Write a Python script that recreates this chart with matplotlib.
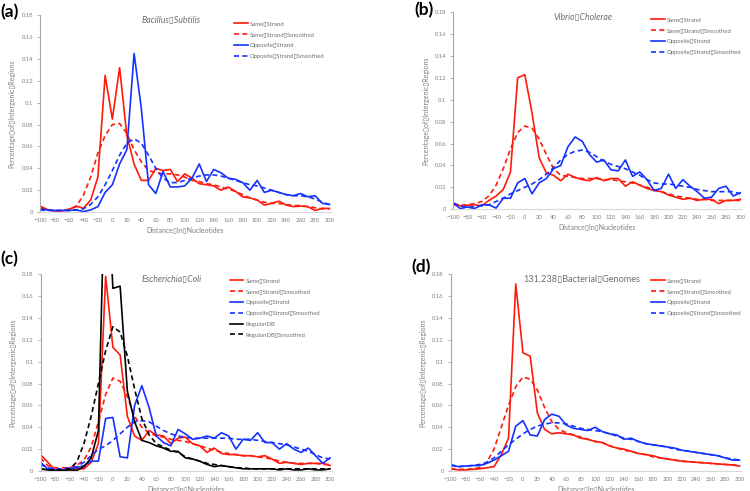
import numpy as np
import matplotlib
matplotlib.use('Agg')
import matplotlib.pyplot as plt
from matplotlib.ticker import FuncFormatter

plt.rcParams['font.family'] = ['Lato', 'DejaVu Sans']

B = '\u25af'  # the box glyph that stands for the spaces in the reference

# distance in nucleotides, -100 .. 300 step 10
dist = list(range(-100, 301, 10))

# ---- (a) Bacillus subtilis
a_same = [0.0055, 0.0025, 0.001, 0.001, 0.0025, 0.0055, 0.0035, 0.011, 0.032, 0.125,
          0.085, 0.132, 0.070, 0.044, 0.029, 0.029, 0.040, 0.038, 0.039, 0.028,
          0.035, 0.031, 0.026, 0.025, 0.024, 0.020, 0.023, 0.019, 0.014, 0.013,
          0.011, 0.0065, 0.008, 0.010, 0.0065, 0.005, 0.0055, 0.005, 0.0015, 0.0035, 0.0033]
a_same_s = [0.004, 0.002, 0.0015, 0.0015, 0.0025, 0.005, 0.0155, 0.032, 0.054, 0.070,
            0.080, 0.081, 0.072, 0.057, 0.046, 0.038, 0.036, 0.035, 0.035, 0.034,
            0.032, 0.029, 0.028, 0.026, 0.025, 0.023, 0.021, 0.019, 0.016, 0.013,
            0.011, 0.009, 0.008, 0.008, 0.007, 0.006, 0.006, 0.005, 0.004, 0.003, 0.003]
a_opp = [0.003, 0.002, 0.0015, 0.0015, 0.0015, 0.002, 0.0005, 0.002, 0.005, 0.018,
         0.025, 0.044, 0.057, 0.145, 0.095, 0.025, 0.017, 0.037, 0.023, 0.023,
         0.024, 0.031, 0.044, 0.028, 0.039, 0.036, 0.031, 0.030, 0.027, 0.020,
         0.029, 0.018, 0.020, 0.018, 0.016, 0.015, 0.017, 0.014, 0.015, 0.008, 0.007]
a_opp_s = [0.002, 0.0015, 0.0015, 0.0015, 0.0015, 0.002, 0.003, 0.007, 0.014, 0.025,
           0.038, 0.052, 0.063, 0.067, 0.063, 0.052, 0.040, 0.031, 0.027, 0.027,
           0.029, 0.031, 0.033, 0.034, 0.034, 0.033, 0.031, 0.029, 0.027, 0.025,
           0.024, 0.022, 0.020, 0.018, 0.016, 0.015, 0.015, 0.014, 0.012, 0.009, 0.007]

# ---- (b) Vibrio cholerae
b_same = [0.006, 0.003, 0.0035, 0.004, 0.003, 0.008, 0.012, 0.018, 0.034, 0.120,
          0.123, 0.088, 0.047, 0.033, 0.031, 0.026, 0.032, 0.029, 0.027, 0.026,
          0.029, 0.026, 0.028, 0.028, 0.021, 0.025, 0.022, 0.019, 0.017, 0.016,
          0.013, 0.011, 0.009, 0.010, 0.008, 0.009, 0.009, 0.005, 0.008, 0.008, 0.009]
b_same_s = [0.004, 0.0035, 0.004, 0.005, 0.007, 0.012, 0.022, 0.037, 0.055, 0.070,
            0.076, 0.074, 0.064, 0.050, 0.037, 0.031, 0.030, 0.029, 0.028, 0.028,
            0.028, 0.027, 0.027, 0.026, 0.025, 0.024, 0.022, 0.020, 0.018, 0.016,
            0.014, 0.012, 0.011, 0.010, 0.009, 0.009, 0.008, 0.008, 0.008, 0.008, 0.008]
b_opp = [0.006, 0.0005, 0.002, 0.0005, 0.004, 0.004, 0.001, 0.010, 0.010, 0.024,
         0.028, 0.014, 0.024, 0.028, 0.037, 0.040, 0.057, 0.066, 0.062, 0.050,
         0.043, 0.045, 0.036, 0.035, 0.045, 0.030, 0.034, 0.027, 0.017, 0.019,
         0.032, 0.019, 0.027, 0.021, 0.016, 0.010, 0.011, 0.019, 0.021, 0.012, 0.015]
b_opp_s = [0.005, 0.003, 0.002, 0.002, 0.003, 0.004, 0.007, 0.010, 0.014, 0.017,
           0.020, 0.023, 0.027, 0.032, 0.038, 0.045, 0.050, 0.053, 0.054, 0.052,
           0.048, 0.044, 0.041, 0.039, 0.037, 0.034, 0.031, 0.027, 0.024, 0.023,
           0.023, 0.022, 0.021, 0.020, 0.018, 0.017, 0.016, 0.016, 0.016, 0.016, 0.014]

# ---- (c) Escherichia coli
c_same = [0.015, 0.008, 0.001, 0.001, 0.001, 0.002, 0.002, 0.008, 0.025, 0.178,
          0.113, 0.106, 0.050, 0.032, 0.028, 0.037, 0.033, 0.032, 0.025, 0.030,
          0.031, 0.025, 0.023, 0.017, 0.021, 0.016, 0.015, 0.015, 0.014, 0.014,
          0.013, 0.014, 0.011, 0.007, 0.008, 0.007, 0.006, 0.007, 0.007, 0.007, 0.005]
c_same_s = [0.012, 0.005, 0.003, 0.003, 0.003, 0.005, 0.010, 0.022, 0.045, 0.070,
            0.085, 0.082, 0.068, 0.050, 0.040, 0.035, 0.032, 0.031, 0.029, 0.028,
            0.027, 0.025, 0.023, 0.021, 0.019, 0.017, 0.016, 0.015, 0.014, 0.014,
            0.013, 0.012, 0.011, 0.009, 0.008, 0.007, 0.007, 0.007, 0.007, 0.006, 0.006]
c_opp = [0.008, 0.002, 0.001, 0.001, 0.002, 0.003, 0.005, 0.009, 0.009, 0.048,
         0.049, 0.013, 0.012, 0.060, 0.078, 0.058, 0.032, 0.026, 0.023, 0.038,
         0.034, 0.029, 0.030, 0.032, 0.030, 0.035, 0.032, 0.020, 0.029, 0.028,
         0.035, 0.026, 0.026, 0.020, 0.025, 0.020, 0.017, 0.021, 0.014, 0.007, 0.012]
c_opp_s = [0.006, 0.003, 0.002, 0.002, 0.003, 0.004, 0.008, 0.014, 0.020, 0.023,
           0.028, 0.034, 0.040, 0.045, 0.046, 0.045, 0.041, 0.037, 0.034, 0.032,
           0.031, 0.030, 0.030, 0.030, 0.030, 0.030, 0.030, 0.029, 0.029, 0.029,
           0.028, 0.027, 0.026, 0.025, 0.024, 0.022, 0.020, 0.018, 0.015, 0.012, 0.011]
c_reg = [0.002, 0.001, 0.0005, 0.0005, 0.001, 0.0005, 0.004, 0.012, 0.037, 0.300,
         0.167, 0.169, 0.073, 0.045, 0.028, 0.026, 0.023, 0.021, 0.018, 0.018,
         0.012, 0.011, 0.009, 0.006, 0.004, 0.005, 0.004, 0.003, 0.002, 0.002,
         0.002, 0.002, 0.002, 0.001, 0.002, 0.001, 0.001, 0.002, 0.001, 0.001, 0.002]
c_reg_s = [0.002, 0.001, 0.001, 0.001, 0.002, 0.008, 0.025, 0.050, 0.080, 0.110,
           0.132, 0.127, 0.105, 0.075, 0.048, 0.033, 0.025, 0.022, 0.019, 0.017,
           0.013, 0.011, 0.009, 0.007, 0.006, 0.005, 0.004, 0.003, 0.003, 0.002,
           0.002, 0.002, 0.002, 0.002, 0.002, 0.002, 0.002, 0.002, 0.002, 0.002, 0.002]

# ---- (d) 131,238 bacterial genomes
d_same = [0.002, 0.001, 0.001, 0.0015, 0.002, 0.003, 0.004, 0.015, 0.030, 0.171,
          0.108, 0.105, 0.053, 0.038, 0.034, 0.035, 0.034, 0.033, 0.030, 0.029,
          0.027, 0.026, 0.023, 0.021, 0.020, 0.018, 0.016, 0.015, 0.014, 0.012,
          0.011, 0.010, 0.009, 0.0085, 0.008, 0.0075, 0.007, 0.0065, 0.006, 0.0055, 0.0045]
d_same_s = [0.002, 0.0015, 0.0015, 0.002, 0.003, 0.008, 0.020, 0.040, 0.060, 0.077,
            0.086, 0.084, 0.074, 0.058, 0.045, 0.038, 0.035, 0.033, 0.031, 0.029,
            0.027, 0.026, 0.023, 0.021, 0.019, 0.018, 0.016, 0.015, 0.013, 0.012,
            0.011, 0.010, 0.009, 0.0085, 0.008, 0.0075, 0.007, 0.0065, 0.006, 0.0055, 0.005]
d_opp = [0.006, 0.004, 0.0045, 0.005, 0.005, 0.007, 0.010, 0.014, 0.018, 0.041,
         0.046, 0.033, 0.032, 0.047, 0.052, 0.050, 0.042, 0.039, 0.038, 0.037,
         0.040, 0.036, 0.034, 0.033, 0.029, 0.030, 0.027, 0.025, 0.024, 0.023,
         0.022, 0.021, 0.019, 0.018, 0.017, 0.016, 0.015, 0.014, 0.012, 0.010, 0.010]
d_opp_s = [0.005, 0.004, 0.0045, 0.005, 0.006, 0.008, 0.012, 0.018, 0.024, 0.029,
           0.034, 0.038, 0.041, 0.043, 0.044, 0.044, 0.043, 0.041, 0.039, 0.038,
           0.037, 0.036, 0.034, 0.032, 0.030, 0.029, 0.027, 0.025, 0.024, 0.023,
           0.022, 0.020, 0.019, 0.018, 0.017, 0.016, 0.015, 0.014, 0.012, 0.011, 0.010]

RED = '#ff1a0a'
BLUE = '#1432ff'
GRAY = '#7f7f7f'


def lab(*words):
    return B.join(words)


def panel(fig, rect, letter, letter_xy, title, italic, series, leg_anchor):
    ax = fig.add_axes(rect)
    for y, color, ls, name in series:
        ax.plot(dist, y, color=color, ls=ls, lw=1.2,
                dashes=(3, 2) if ls == '--' else (None, None), label=name)
    ax.set_xlim(-100, 302)
    ax.set_ylim(0, 0.18)
    ax.set_xticks(range(-100, 301, 20))
    ax.set_yticks(np.arange(0, 0.181, 0.02))
    ax.yaxis.set_major_formatter(FuncFormatter(lambda v, p: '%g' % round(v, 2)))
    ax.tick_params(axis='x', length=0, labelsize=4.2, colors=GRAY, pad=4)
    ax.tick_params(axis='y', length=2, width=0.6, color='#a6a6a6',
                   labelsize=4.2, labelcolor=GRAY, pad=3)
    for s in ['top', 'right']:
        ax.spines[s].set_visible(False)
    ax.spines['left'].set_color('#a6a6a6')
    ax.spines['bottom'].set_color('#d9d9d9')
    ax.set_xlabel(lab('Distance', 'In', 'Nucleotides'), fontsize=5, color=GRAY, labelpad=2.5)
    ax.set_ylabel(lab('Percentage', 'of', 'Intergenic', 'Regions'), fontsize=5,
                  color=GRAY, labelpad=4)
    ax.text(0.45, 0.998, title, transform=ax.transAxes, ha='center', va='top',
            fontsize=6.3 if italic else 6.6, color='#6f6f6f',
            style='italic' if italic else 'normal')
    leg = ax.legend(loc='upper left', bbox_to_anchor=leg_anchor, frameon=False,
                    fontsize=4.3, handlelength=2.3, handletextpad=0.35,
                    labelspacing=0.95, borderpad=0, borderaxespad=0)
    for t in leg.get_texts():
        t.set_color('#6f6f6f')
    fig.text(letter_xy[0], letter_xy[1], letter, fontsize=12.5, fontweight='bold',
             ha='left', va='center')
    return ax


fig = plt.figure(figsize=(7.5, 4.91), dpi=100)

same = lab('Same', 'Strand')
same_s = lab('Same', 'Strand', 'Smoothed')
opp = lab('Opposite', 'Strand')
opp_s = lab('Opposite', 'Strand', 'Smoothed')

panel(fig, [0.0533, 0.568, 0.388, 0.401], '(a)', (0.0, 0.975),
      lab('Bacillus', 'Subtilis'), True,
      [(a_same, RED, '-', same), (a_same_s, RED, '--', same_s),
       (a_opp, BLUE, '-', opp), (a_opp_s, BLUE, '--', opp_s)],
      (0.668, 0.97))

panel(fig, [0.604, 0.574, 0.385, 0.401], '(b)', (0.553, 0.98),
      lab('Vibrio', 'Cholerae'), True,
      [(b_same, RED, '-', same), (b_same_s, RED, '--', same_s),
       (b_opp, BLUE, '-', opp), (b_opp_s, BLUE, '--', opp_s)],
      (0.686, 0.975))

panel(fig, [0.054, 0.0407, 0.388, 0.401], '(c)', (0.0, 0.472),
      lab('Escherichia', 'Coli'), True,
      [(c_same, RED, '-', same), (c_same_s, RED, '--', same_s),
       (c_opp, BLUE, '-', opp), (c_opp_s, BLUE, '--', opp_s),
       (c_reg, 'black', '-', 'RegulonDB'), (c_reg_s, 'black', '--', lab('RegulonDB', 'Smoothed'))],
      (0.65, 0.98))

panel(fig, [0.601, 0.0407, 0.387, 0.401], '(d)', (0.549, 0.455),
      lab('131,238', 'Bacterial', 'Genomes'), False,
      [(d_same, RED, '-', same), (d_same_s, RED, '--', same_s),
       (d_opp, BLUE, '-', opp), (d_opp_s, BLUE, '--', opp_s)],
      (0.69, 0.98))

fig.savefig('out.png', dpi=100)
